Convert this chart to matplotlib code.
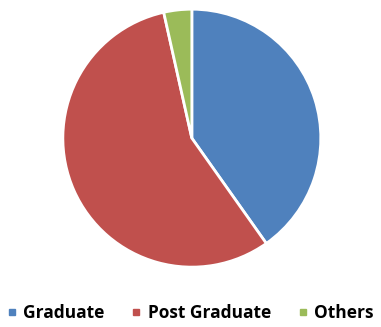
import matplotlib
matplotlib.use("Agg")
import matplotlib.pyplot as plt
from matplotlib.lines import Line2D

categories = ["Graduate", "Post Graduate", "Others"]
shares = [40.2, 56.3, 3.5]
colors = ["#4F81BD", "#C0504D", "#9BBB59"]

fig = plt.figure(figsize=(3.81, 3.27), dpi=100)
ax = fig.add_axes([0.165, 0.183, 0.677, 0.789])
ax.pie(shares, colors=colors, startangle=90, counterclock=False,
       wedgeprops=dict(edgecolor="white", linewidth=2))
ax.set_xlim(-1.0, 1.0)
ax.set_ylim(-1.0, 1.0)
ax.set_aspect("equal")

handles = [Line2D([], [], marker="s", linestyle="none", markersize=5,
                  markerfacecolor=c, markeredgecolor=c) for c in colors]
fig.legend(handles, categories, loc="center", bbox_to_anchor=(0.5, 0.042),
           ncol=3, frameon=False, handlelength=0.5, handletextpad=0.4,
           columnspacing=1.6,
           prop=dict(family="Open Sans", weight="bold", size=12.5))

fig.savefig("out.png", dpi=100)
